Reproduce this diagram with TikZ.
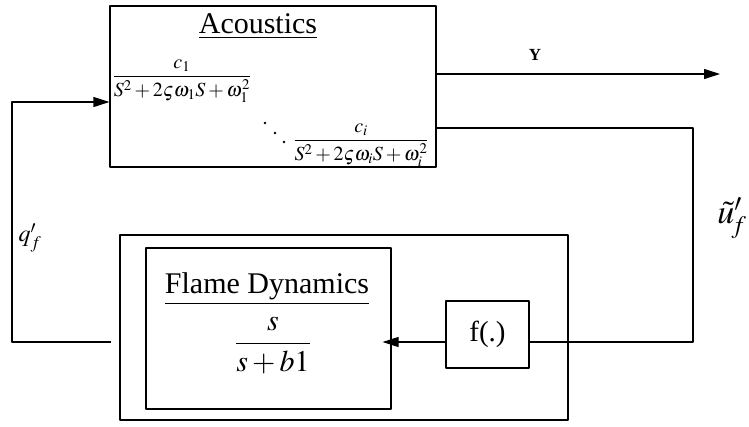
\documentclass[tikz,border=0pt]{standalone}
\usepackage{amsmath}
\usepackage{mathptmx}
\usepackage{fontspec}
\setmainfont{Liberation Serif}
\usetikzlibrary{arrows.meta}

\begin{document}
\begin{tikzpicture}[
			x=1pt,
			y=-1pt,
			>={Triangle[length=16pt,width=10pt]},
			line width=1.1pt,
			line join=round,
			block/.style={draw,inner sep=0pt},
			titletext/.style={anchor=base,font=\fontsize{30}{34}\selectfont},
			tfbig/.style={font=\fontsize{30}{36}\selectfont},
			tfsmall/.style={inner sep=0pt,font=\fontsize{20}{24}\selectfont}
			]
			
			\useasboundingbox (0,0) rectangle (749,426);
			
			% blocks
			\node[block,minimum width=326,minimum height=161] (acoustics) at (273,86.5) {};
			\node[block,minimum width=448,minimum height=185] (outer) at (344,327.5) {};
			\node[block,minimum width=245,minimum height=161] (flame) at (268.5,328.5) {};
			\node[block,minimum width=83,minimum height=67,font=\fontsize{29}{34}\selectfont] (fbox) at (487.5,334.5) {f(.)};
			
			% acoustics contents
			\node[titletext] (actitle) at (258,33) {\underline{Acoustics}};
			\node[tfsmall,anchor=west] (modeone) at (112,81) {$\dfrac{c_1}{S^2+2\varsigma\omega_1S+\omega_1^2}$};
			\node[tfsmall] (modei) at (361,145) {$\dfrac{c_i}{S^2+2\varsigma\omega_iS+\omega_i^2}$};
			\foreach \dx/\dy in {265/123,275/133,284/142}
			\fill (\dx,\dy) circle (1.4pt);
			
			% flame contents
			\node[titletext] (fltitle) at (267,293) {\underline{Flame Dynamics}};
			\node[tfbig] (flfrac) at (273,346) {$\dfrac{s}{s+b1}$};
			
			% output Y
			\coordinate (yend) at (720,74);
			\draw[->] (acoustics.east |- yend) -- (yend);
			\node[font=\fontsize{17}{20}\selectfont\bfseries] (ylab) at (535,55) {Y};
			
			% velocity feedback
			\coordinate (ucorner) at (693,128);
			\draw (acoustics.east |- ucorner) -- (ucorner) |- ([yshift=-7.5pt]fbox.east);
			\draw[->,shorten >=-9pt] ([yshift=-7.5pt]fbox.west) -- ([yshift=-13.5pt]flame.east);
			\node[font=\fontsize{34}{40}\selectfont] (ulab) at (732,218) {$\tilde{u}'_{\!f}$};
			
			% heat release back to acoustics
			\coordinate (qstart) at (111,342);
			\coordinate (qcorner) at (12,102);
			\draw[->] (qstart) -| (qcorner) -- (acoustics.west |- qcorner);
			\node[font=\fontsize{24}{28}\selectfont] (qlab) at (30,238) {$q'_f$};
			
		\end{tikzpicture}
\end{document}
